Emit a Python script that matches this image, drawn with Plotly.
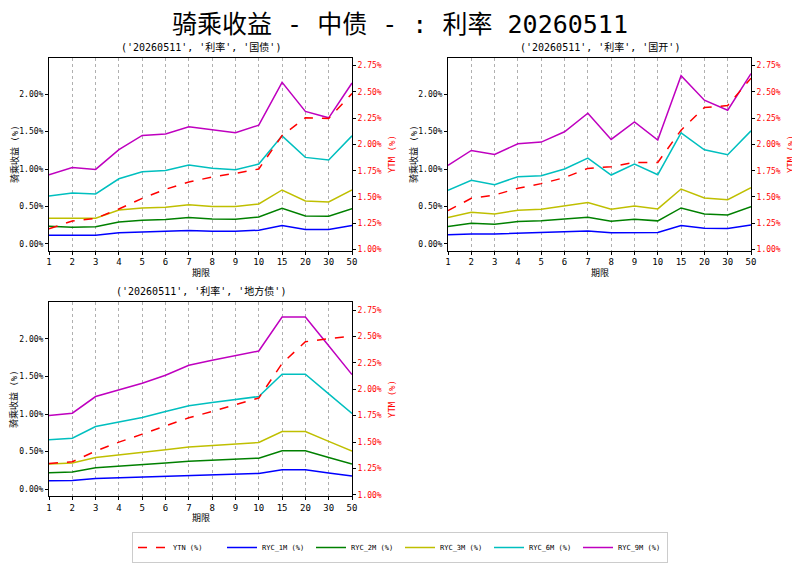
import plotly.graph_objects as go

# terms on the x axis
terms = ["1", "2", "3", "4", "5", "6", "7", "8", "9", "10", "15", "20", "30", "50"]

# left / right axis ticks (percent)
ryc_ticks = [0.0, 0.5, 1.0, 1.5, 2.0]
ytm_ticks = [1.0, 1.25, 1.5, 1.75, 2.0, 2.25, 2.5, 2.75]

# 国债
gz_ytm = [1.196, 1.272, 1.297, 1.386, 1.487, 1.573, 1.642, 1.690, 1.725, 1.766, 2.085, 2.253, 2.247, 2.484]
gz_1m = [0.116, 0.111, 0.116, 0.147, 0.156, 0.164, 0.178, 0.169, 0.169, 0.182, 0.244, 0.191, 0.191, 0.244]
gz_2m = [0.236, 0.222, 0.227, 0.293, 0.316, 0.324, 0.351, 0.333, 0.329, 0.360, 0.476, 0.373, 0.369, 0.471]
gz_3m = [0.342, 0.342, 0.342, 0.453, 0.480, 0.489, 0.524, 0.498, 0.498, 0.533, 0.720, 0.573, 0.560, 0.720]
gz_6m = [0.640, 0.680, 0.667, 0.870, 0.964, 0.980, 1.053, 1.010, 0.990, 1.067, 1.444, 1.156, 1.120, 1.444]
gz_9m = [0.924, 1.020, 0.995, 1.260, 1.450, 1.470, 1.565, 1.530, 1.485, 1.587, 2.160, 1.770, 1.685, 2.150]

# 国开
gk_ytm = [1.370, 1.487, 1.519, 1.582, 1.627, 1.684, 1.772, 1.788, 1.829, 1.829, 2.136, 2.351, 2.370, 2.630]
gk_1m = [0.120, 0.133, 0.133, 0.142, 0.147, 0.164, 0.173, 0.147, 0.151, 0.151, 0.244, 0.209, 0.204, 0.253]
gk_2m = [0.231, 0.276, 0.262, 0.298, 0.307, 0.333, 0.356, 0.302, 0.329, 0.307, 0.480, 0.400, 0.387, 0.498]
gk_3m = [0.351, 0.422, 0.400, 0.449, 0.462, 0.502, 0.551, 0.462, 0.507, 0.467, 0.733, 0.613, 0.591, 0.751]
gk_6m = [0.716, 0.849, 0.791, 0.898, 0.911, 1.000, 1.147, 0.920, 1.067, 0.924, 1.484, 1.258, 1.191, 1.511]
gk_9m = [1.049, 1.249, 1.196, 1.338, 1.360, 1.498, 1.747, 1.396, 1.631, 1.387, 2.249, 1.920, 1.787, 2.276]

# 地方债
df_ytm = [1.297, 1.313, 1.414, 1.499, 1.575, 1.654, 1.730, 1.790, 1.853, 1.917, 2.245, 2.451, 2.479, 2.504]
df_1m = [0.111, 0.115, 0.142, 0.151, 0.160, 0.173, 0.186, 0.191, 0.200, 0.208, 0.257, 0.257, 0.215, 0.173]
df_2m = [0.217, 0.226, 0.284, 0.302, 0.319, 0.346, 0.372, 0.386, 0.395, 0.412, 0.510, 0.510, 0.421, 0.333]
df_3m = [0.333, 0.346, 0.421, 0.452, 0.488, 0.523, 0.559, 0.581, 0.603, 0.621, 0.767, 0.767, 0.636, 0.505]
df_6m = [0.656, 0.678, 0.834, 0.891, 0.953, 1.033, 1.109, 1.153, 1.193, 1.233, 1.530, 1.530, 1.268, 1.007]
df_9m = [0.980, 1.011, 1.233, 1.322, 1.410, 1.517, 1.650, 1.716, 1.783, 1.840, 2.293, 2.293, 1.909, 1.525]

panels = [
    ("('20260511', '利率', '国债')", gz_ytm, [gz_1m, gz_2m, gz_3m, gz_6m, gz_9m]),
    ("('20260511', '利率', '国开')", gk_ytm, [gk_1m, gk_2m, gk_3m, gk_6m, gk_9m]),
    ("('20260511', '利率', '地方债')", df_ytm, [df_1m, df_2m, df_3m, df_6m, df_9m]),
]
ryc_names = ["RYC_1M (%)", "RYC_2M (%)", "RYC_3M (%)", "RYC_6M (%)", "RYC_9M (%)"]
ryc_colors = ["#0000ff", "#008000", "#bfbf00", "#00bfbf", "#bf00bf"]

# the page puts the figure 8px in from the top-left corner
OFF = 8
W, H = 800 - OFF, 563 - OFF
# plot areas in page pixels: (left, right, top, bottom)
boxes = [(49, 352, 57.7, 251), (448, 751, 57.7, 251), (49, 352, 302.7, 496.7)]


def px(p):
    return (p - OFF) / W


def py(p):
    return 1 - (p - OFF) / H


def pct(v):
    return f"{v:.2f}%"


FONT = "DejaVu Sans Mono, Noto Sans CJK SC"
fig = go.Figure()
layout = {}
annotations = []

for i, (title, ytm, rycs) in enumerate(panels):
    n = i + 1
    xa = "x" if n == 1 else f"x{n}"
    ya_l = "y" if n == 1 else f"y{2 * n - 1}"
    ya_r = f"y{2 * n}"
    first = i == 0

    fig.add_trace(go.Scatter(
        x=terms, y=ytm, name="YTN (%)", xaxis=xa, yaxis=ya_r,
        mode="lines", line=dict(color="#ff0000", dash="dash", width=1.5),
        showlegend=first
    ))
    for name, color, vals in zip(ryc_names, ryc_colors, rycs):
        fig.add_trace(go.Scatter(
            x=terms, y=vals, name=name, xaxis=xa, yaxis=ya_l,
            mode="lines", line=dict(color=color, width=1.5),
            showlegend=first
        ))

    l, r, t, b = boxes[i]
    xkey = "xaxis" if n == 1 else f"xaxis{n}"
    ylkey = "yaxis" if n == 1 else f"yaxis{2 * n - 1}"
    yrkey = f"yaxis{2 * n}"

    layout[xkey] = dict(
        domain=[px(l), px(r)], anchor=ya_l, type="category", range=[0, 13],
        showgrid=True, gridcolor="#b0b0b0", griddash="dot", gridwidth=1,
        showline=True, linecolor="black", linewidth=1, mirror=True,
        ticks="outside", ticklen=3, tickcolor="black",
        tickfont=dict(size=9, color="black", family=FONT),
        zeroline=False, automargin=False,
    )
    layout[ylkey] = dict(
        domain=[py(b), py(t)], anchor=xa, range=[-0.09, 2.49],
        tickmode="array", tickvals=ryc_ticks, ticktext=[pct(v) for v in ryc_ticks],
        showgrid=False, zeroline=False,
        showline=True, linecolor="black", linewidth=1,
        ticks="outside", ticklen=3, tickcolor="black",
        tickfont=dict(size=8, color="black", family=FONT),
        automargin=False,
    )
    layout[yrkey] = dict(
        overlaying=ya_l, anchor=xa, side="right", range=[0.99, 2.826],
        tickmode="array", tickvals=ytm_ticks, ticktext=[pct(v) for v in ytm_ticks],
        showgrid=False, zeroline=False,
        showline=True, linecolor="black", linewidth=1,
        ticks="outside", ticklen=3, tickcolor="black",
        tickfont=dict(size=8, color="#ff0000", family=FONT),
        automargin=False,
    )
    xc = (l + r) / 2
    yc = (t + b) / 2
    # subplot title
    annotations.append(dict(
        text=title, xref="paper", yref="paper",
        x=px(xc), y=py(t - 3),
        xanchor="center", yanchor="bottom", showarrow=False,
        font=dict(size=10, family=FONT, color="black"),
    ))
    # x title
    annotations.append(dict(
        text="期限", xref="paper", yref="paper",
        x=px(xc), y=py(b + 22),
        xanchor="center", yanchor="middle", showarrow=False,
        font=dict(size=9, family=FONT, color="black"),
    ))
    # left y title
    annotations.append(dict(
        text="骑乘收益 (%)", xref="paper", yref="paper",
        x=px(l - 35), y=py(yc), textangle=-90,
        xanchor="center", yanchor="middle", showarrow=False,
        font=dict(size=9, family=FONT, color="black"),
    ))
    # right y title
    annotations.append(dict(
        text="YTM (%)", xref="paper", yref="paper",
        x=px(r + 40), y=py(yc), textangle=-90,
        xanchor="center", yanchor="middle", showarrow=False,
        font=dict(size=9, family=FONT, color="#ff0000"),
    ))

fig.update_layout(
    **layout,
    annotations=annotations,
    title=dict(text="骑乘收益 - 中债 - : 利率 20260511", x=px(400), xanchor="center",
               y=py(24), yanchor="middle", font=dict(size=25, family=FONT, color="black")),
    width=W, height=H,
    margin=dict(l=0, r=0, t=0, b=0),
    paper_bgcolor="white", plot_bgcolor="white",
    font=dict(family=FONT, size=9, color="black"),
    legend=dict(
        orientation="h", x=px(400), xanchor="center", y=py(548), yanchor="middle",
        bordercolor="#cccccc", borderwidth=1, font=dict(size=7, family=FONT),
        entrywidth=44, itemwidth=30,
    ),
)

fig.write_html("out.html")
